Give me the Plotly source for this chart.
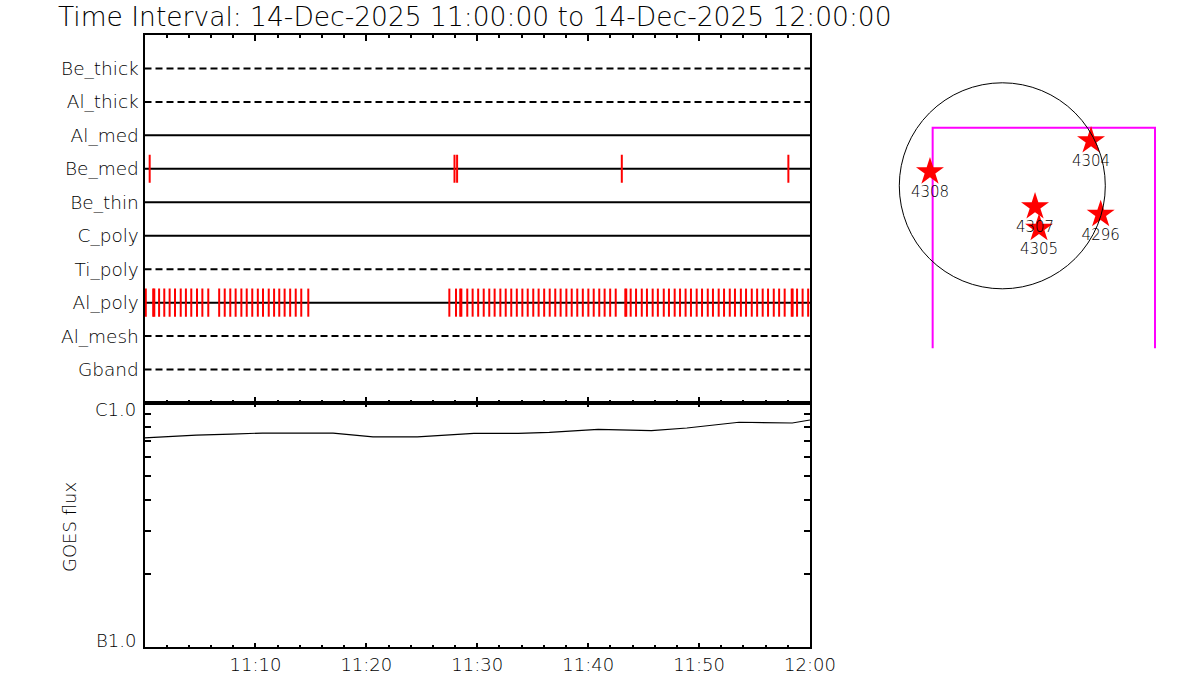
import plotly.graph_objects as go
import pandas as pd

# ---------------- data ----------------
title_text = "Time Interval: 14-Dec-2025 11:00:00 to 14-Dec-2025 12:00:00"
obs_date = "2025-12-14"
t_start = "11:00:00"
t_end = "12:00:00"

filters = ["Gband", "Al_mesh", "Al_poly", "Ti_poly", "C_poly",
           "Be_thin", "Be_med", "Al_med", "Al_thick", "Be_thick"]
filter_dashed = [True, True, False, True, False, False, False, False, True, True]

be_med_times = ["11:00:28", "11:27:57", "11:28:11", "11:43:02", "11:58:03"]

al_poly_times = [
    "11:00:07", "11:00:47", "11:00:53", "11:01:19", "11:01:47", "11:02:16", "11:02:45",
    "11:03:16", "11:03:44", "11:04:13", "11:04:44", "11:05:13", "11:05:45", "11:06:44",
    "11:07:14", "11:07:44", "11:08:13", "11:08:44", "11:09:13", "11:09:43", "11:10:13",
    "11:10:41", "11:11:12", "11:11:41", "11:12:09", "11:12:38", "11:13:08", "11:13:38",
    "11:14:08", "11:14:46",
    "11:27:29", "11:28:05", "11:28:28", "11:28:34", "11:29:06", "11:29:35", "11:30:05",
    "11:30:35", "11:31:05", "11:31:34", "11:32:05", "11:32:34", "11:33:04", "11:33:34",
    "11:34:04", "11:34:33", "11:35:03", "11:35:32", "11:36:02", "11:36:32", "11:37:02",
    "11:37:31", "11:38:02", "11:38:31", "11:39:01", "11:39:31", "11:40:01", "11:40:30",
    "11:41:00", "11:41:29", "11:41:59", "11:42:29",
    "11:43:21", "11:43:26", "11:43:50", "11:44:19", "11:44:50", "11:45:18", "11:45:49",
    "11:46:17", "11:46:49", "11:47:17", "11:47:48", "11:48:17", "11:48:47", "11:49:16",
    "11:49:47", "11:50:16", "11:50:47", "11:51:15", "11:51:46", "11:52:15", "11:52:46",
    "11:53:14", "11:53:46", "11:54:14", "11:54:45", "11:55:14", "11:55:44", "11:56:13",
    "11:56:44", "11:57:13", "11:57:43", "11:58:21", "11:58:26", "11:58:50", "11:59:20",
    "11:59:50",
]

goes_times = ["11:00:00", "11:04:40", "11:07:50", "11:10:38", "11:17:00", "11:18:36",
              "11:20:36", "11:24:36", "11:29:42", "11:33:42", "11:36:30", "11:40:54",
              "11:45:42", "11:48:54", "11:53:36", "11:58:24", "12:00:00"]
goes_flux = [7.19e-7, 7.39e-7, 7.46e-7, 7.53e-7, 7.53e-7, 7.39e-7,
             7.26e-7, 7.26e-7, 7.51e-7, 7.51e-7, 7.58e-7, 7.80e-7,
             7.70e-7, 7.90e-7, 8.34e-7, 8.28e-7, 8.52e-7]

goes_tickvals = [1e-7, 2e-7, 3e-7, 4e-7, 5e-7, 6e-7, 7e-7, 8e-7, 9e-7, 1e-6]
goes_labels = ["B1.0", "C1.0"]

time_tick_labels = ["11:10", "11:20", "11:30", "11:40", "11:50", "12:00"]

region_names = ["4308", "4304", "4307", "4305", "4296"]
region_x = [-674, 827, 305, 342, 917]
region_y = [131, 420, -195, -396, -266]
sun_radius = 960
fov_x = [-649, -649, 1423, 1423]
fov_y = [-1600, 541, 541, -1600]

# ---------------- helpers ----------------
W, H = 1200, 700
def px(x):
    return x / W
def py(y):
    return 1 - y / H
def ts(t):
    return pd.Timestamp(f"{obs_date} {t}")

x0, x1 = ts(t_start), ts(t_end)
row_of = {name: i + 1 for i, name in enumerate(filters)}
half = 0.42

fig = go.Figure()

# filter rows
for name, dashed in zip(filters, filter_dashed):
    r = row_of[name]
    fig.add_trace(go.Scatter(
        x=[x0, x1], y=[r, r], mode="lines", xaxis="x", yaxis="y",
        line=dict(color="black", width=2, dash="7px,4px" if dashed else "solid"),
        hoverinfo="skip", showlegend=False))

# exposure marks
def marks(times, name):
    xs, ys = [], []
    r = row_of[name]
    for t in times:
        xs += [ts(t), ts(t), None]
        ys += [r - half, r + half, None]
    return xs, ys

for times, name in [(be_med_times, "Be_med"), (al_poly_times, "Al_poly")]:
    xs, ys = marks(times, name)
    fig.add_trace(go.Scatter(
        x=xs, y=ys, mode="lines", xaxis="x", yaxis="y",
        line=dict(color="#ff0000", width=2), showlegend=False))

# GOES
fig.add_trace(go.Scatter(
    x=[ts(t) for t in goes_times], y=goes_flux, mode="lines",
    xaxis="x2", yaxis="y2", line=dict(color="black", width=1.2), showlegend=False))

# right panel: FOV and regions
fig.add_trace(go.Scatter(
    x=fov_x, y=fov_y, mode="lines", xaxis="x3", yaxis="y3",
    line=dict(color="#ff00ff", width=2), showlegend=False))

FAM = "DejaVu Sans"
WT = 200
font = dict(family=FAM, color="black", weight=WT)

fig.add_trace(go.Scatter(
    x=region_x, y=region_y, mode="markers+text", xaxis="x3", yaxis="y3",
    marker=dict(symbol="star", size=21, color="#ff0000", line=dict(width=0)),
    text=region_names, textposition="bottom center",
    textfont=dict(size=15, **font),
    cliponaxis=False, showlegend=False))

fig.add_shape(type="circle", xref="x3", yref="y3",
              x0=-sun_radius, x1=sun_radius, y0=-sun_radius, y1=sun_radius,
              line=dict(color="black", width=1))

xdom = [px(144.5), px(810)]

fig.update_layout(
    width=W, height=H, autosize=False, margin=dict(l=0, r=0, t=0, b=0, autoexpand=False),
    paper_bgcolor="white", plot_bgcolor="white", showlegend=False,
    font=dict(family=FAM, size=17, color="black", weight=WT),
    xaxis=dict(
        type="date", domain=xdom, anchor="y", range=[x0, x1],
        showline=True, linecolor="black", linewidth=2, mirror="ticks",
        ticks="inside", ticklen=6, tickwidth=2, tickcolor="black",
        tick0=x0, dtick=600000, showticklabels=False, showgrid=False, zeroline=False,
        minor=dict(ticks="inside", ticklen=3, tickwidth=2, tickcolor="black",
                   tick0=x0, dtick=120000, showgrid=False)),
    yaxis=dict(
        domain=[py(403), py(35)], anchor="x", range=[0, 11],
        tickmode="array", tickvals=list(range(1, len(filters) + 1)), ticktext=filters,
        ticks="", showline=True, linecolor="black", linewidth=2, mirror=True,
        showgrid=False, zeroline=False, tickfont=dict(size=18.5, **font),
        ticklabelstandoff=0),
    xaxis2=dict(
        type="date", domain=xdom, anchor="y2", range=[x0, x1],
        showline=True, linecolor="black", linewidth=2, mirror="ticks",
        ticks="inside", ticklen=4, tickwidth=2, tickcolor="black",
        tickmode="array", tickvals=[ts(t + ":00") for t in time_tick_labels],
        ticktext=time_tick_labels, tickfont=dict(size=18, **font),
        ticklabelstandoff=0, showgrid=False, zeroline=False,
        minor=dict(ticks="inside", ticklen=2, tickwidth=2, tickcolor="black",
                   tickmode="linear", tick0=x0, dtick=120000, showgrid=False)),
    yaxis2=dict(
        type="log", domain=[py(647), py(403)], anchor="x2", range=[-7, -6],
        tickmode="array", tickvals=goes_tickvals, showticklabels=False,
        ticks="inside", ticklen=6, tickwidth=1.5, tickcolor="black",
        showline=True, linecolor="black", linewidth=2, mirror="ticks",
        showgrid=False, zeroline=False),
    xaxis3=dict(domain=[px(880), px(1180)], anchor="y3",
                range=[-1139.8, 1656.1], visible=False),
    yaxis3=dict(domain=[py(348.3), py(60)], anchor="x3",
                range=[-1514.4, 1172.4], visible=False),
)

annotations = [
    dict(text=title_text, x=px(56), y=py(16), xref="paper", yref="paper",
         xanchor="left", yanchor="middle", showarrow=False,
         font=dict(size=26.5, **font)),
    dict(text=goes_labels[1], x=px(138), y=py(409), xref="paper", yref="paper",
         xanchor="right", yanchor="middle", showarrow=False, font=dict(size=18, **font)),
    dict(text=goes_labels[0], x=px(138), y=py(640), xref="paper", yref="paper",
         xanchor="right", yanchor="middle", showarrow=False, font=dict(size=18, **font)),
    dict(text="GOES flux", x=px(69), y=py(527), xref="paper", yref="paper",
         xanchor="center", yanchor="middle", textangle=-90, showarrow=False,
         font=dict(size=18, **font)),
]
fig.update_layout(annotations=annotations)

post = ("document.documentElement.style.margin='0';"
        "document.body.style.margin='0';document.body.style.padding='0';"
        "document.body.style.overflow='hidden';"
        "var gd=document.getElementById('{plot_id}');"
        "Plotly.relayout(gd,{width:1200,height:700});")

fig.write_html("out.html", config={"responsive": False, "displayModeBar": False},
               default_width="1200px", default_height="700px", post_script=post)
